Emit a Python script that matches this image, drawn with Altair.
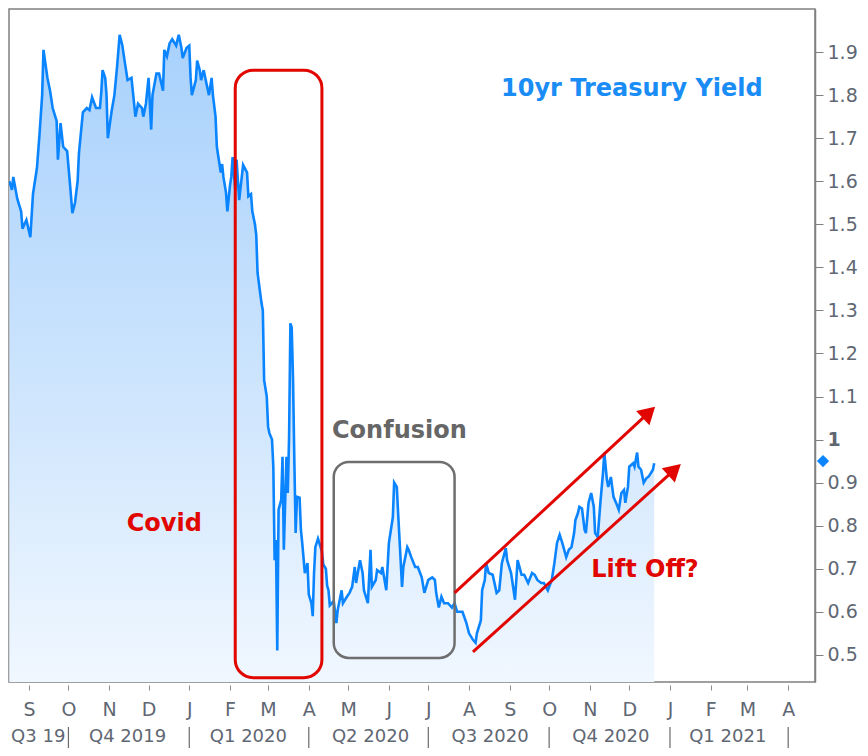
import altair as alt
import pandas as pd

# ---------------- data ----------------
dates = [
    "2019-08-17", "2019-08-19", "2019-08-20", "2019-08-23", "2019-08-24", "2019-08-26", "2019-08-27", "2019-08-30",
    "2019-09-02", "2019-09-04", "2019-09-07", "2019-09-09", "2019-09-11", "2019-09-12", "2019-09-15", "2019-09-17",
    "2019-09-19", "2019-09-22", "2019-09-23", "2019-09-25", "2019-09-27", "2019-09-30",
    "2019-10-02", "2019-10-04", "2019-10-06", "2019-10-08", "2019-10-09", "2019-10-12", "2019-10-15", "2019-10-17",
    "2019-10-19", "2019-10-22", "2019-10-25", "2019-10-26", "2019-10-27", "2019-10-29", "2019-10-30", "2019-10-31",
    "2019-11-03", "2019-11-05", "2019-11-07", "2019-11-09", "2019-11-11", "2019-11-13", "2019-11-15", "2019-11-18",
    "2019-11-19", "2019-11-21", "2019-11-23", "2019-11-26", "2019-11-27", "2019-11-29",
    "2019-12-01", "2019-12-03", "2019-12-04", "2019-12-07", "2019-12-09", "2019-12-12", "2019-12-13", "2019-12-15",
    "2019-12-17", "2019-12-19", "2019-12-22", "2019-12-24", "2019-12-26", "2019-12-27", "2019-12-30",
    "2020-01-01", "2020-01-02", "2020-01-03", "2020-01-06", "2020-01-07", "2020-01-09", "2020-01-10", "2020-01-12",
    "2020-01-14", "2020-01-16", "2020-01-18", "2020-01-19", "2020-01-21", "2020-01-22", "2020-01-25", "2020-01-26",
    "2020-01-27", "2020-01-29", "2020-01-30",
    "2020-02-01", "2020-02-02", "2020-02-03", "2020-02-05", "2020-02-06", "2020-02-08", "2020-02-11", "2020-02-14",
    "2020-02-15", "2020-02-17", "2020-02-18", "2020-02-20", "2020-02-21", "2020-02-22", "2020-02-24", "2020-02-25",
    "2020-02-26", "2020-02-27", "2020-02-29",
    "2020-03-01", "2020-03-02", "2020-03-04", "2020-03-05", "2020-03-06", "2020-03-07", "2020-03-08", "2020-03-09",
    "2020-03-11", "2020-03-12", "2020-03-13", "2020-03-15", "2020-03-16", "2020-03-17", "2020-03-18", "2020-03-19",
    "2020-03-20", "2020-03-21", "2020-03-22", "2020-03-23", "2020-03-25", "2020-03-26", "2020-03-27", "2020-03-29",
    "2020-03-30", "2020-03-31",
    "2020-04-01", "2020-04-03", "2020-04-04", "2020-04-05", "2020-04-06", "2020-04-08", "2020-04-09", "2020-04-11",
    "2020-04-12", "2020-04-14", "2020-04-15", "2020-04-16", "2020-04-17", "2020-04-20", "2020-04-22", "2020-04-23",
    "2020-04-26", "2020-04-27", "2020-04-30",
    "2020-05-02", "2020-05-04", "2020-05-06", "2020-05-07", "2020-05-10", "2020-05-12", "2020-05-13", "2020-05-16",
    "2020-05-18", "2020-05-19", "2020-05-22", "2020-05-23", "2020-05-26", "2020-05-27", "2020-05-30",
    "2020-06-01", "2020-06-04", "2020-06-05", "2020-06-07", "2020-06-08", "2020-06-11", "2020-06-12", "2020-06-15",
    "2020-06-16", "2020-06-18", "2020-06-21", "2020-06-23", "2020-06-26", "2020-06-28",
    "2020-07-01", "2020-07-04", "2020-07-06", "2020-07-07", "2020-07-09", "2020-07-11", "2020-07-13", "2020-07-16",
    "2020-07-19", "2020-07-21", "2020-07-23", "2020-07-27", "2020-07-30",
    "2020-08-01", "2020-08-04", "2020-08-06", "2020-08-07", "2020-08-10", "2020-08-11", "2020-08-13", "2020-08-14",
    "2020-08-16", "2020-08-19", "2020-08-22", "2020-08-24", "2020-08-26", "2020-08-29", "2020-08-30",
    "2020-09-02", "2020-09-05", "2020-09-07", "2020-09-10", "2020-09-12", "2020-09-15", "2020-09-18", "2020-09-20",
    "2020-09-22", "2020-09-25", "2020-09-27", "2020-09-30",
    "2020-10-03", "2020-10-05", "2020-10-07", "2020-10-09", "2020-10-11", "2020-10-14", "2020-10-16", "2020-10-18",
    "2020-10-20", "2020-10-21", "2020-10-23", "2020-10-24", "2020-10-26", "2020-10-28", "2020-10-29", "2020-10-31",
    "2020-11-02", "2020-11-04", "2020-11-05", "2020-11-07", "2020-11-09", "2020-11-11", "2020-11-12", "2020-11-14",
    "2020-11-15", "2020-11-17", "2020-11-19", "2020-11-21", "2020-11-23", "2020-11-25", "2020-11-27", "2020-11-28",
    "2020-11-30",
    "2020-12-01", "2020-12-04", "2020-12-05", "2020-12-07", "2020-12-08", "2020-12-10", "2020-12-12", "2020-12-14",
    "2020-12-16", "2020-12-19", "2020-12-20",
]
yields = [
    1.60, 1.58, 1.61, 1.56, 1.55, 1.53, 1.49, 1.51,
    1.47, 1.57, 1.63, 1.71, 1.80, 1.905, 1.84, 1.81,
    1.77, 1.74, 1.65, 1.735, 1.68, 1.67,
    1.60, 1.526, 1.55, 1.60, 1.665, 1.76, 1.77, 1.765,
    1.795, 1.77, 1.77, 1.807, 1.858, 1.84, 1.80, 1.70,
    1.765, 1.80, 1.865, 1.94, 1.916, 1.875, 1.835, 1.84,
    1.81, 1.75, 1.78, 1.77, 1.75, 1.78,
    1.84, 1.72, 1.80, 1.85, 1.85, 1.81, 1.905, 1.89,
    1.92, 1.93, 1.915, 1.94, 1.91, 1.886, 1.91,
    1.915, 1.84, 1.80, 1.835, 1.88, 1.858, 1.835, 1.858,
    1.828, 1.80, 1.84, 1.80, 1.75, 1.68, 1.62, 1.64,
    1.61, 1.573, 1.53,
    1.59, 1.61, 1.656, 1.58, 1.65, 1.556, 1.638, 1.62,
    1.565, 1.57, 1.53, 1.50, 1.475, 1.387, 1.34, 1.317,
    1.30, 1.138, 1.10,
    1.03, 1.015, 1.00, 0.937, 0.72, 0.767, 0.51, 0.837,
    0.86, 0.96, 0.744, 0.96, 0.876, 1.006, 1.27, 1.26,
    1.14, 0.95, 0.783, 0.867, 0.865, 0.79, 0.76, 0.69,
    0.70, 0.713,
    0.64, 0.62, 0.59, 0.69, 0.75, 0.77, 0.76, 0.74,
    0.71, 0.70, 0.66, 0.65, 0.615, 0.625, 0.574, 0.604,
    0.65, 0.62, 0.635,
    0.644, 0.658, 0.704, 0.667, 0.72, 0.69, 0.65, 0.62,
    0.744, 0.658, 0.674, 0.697, 0.69, 0.704, 0.65,
    0.76, 0.82, 0.90, 0.89, 0.83, 0.658, 0.704, 0.75,
    0.744, 0.727, 0.704, 0.704, 0.68, 0.644,
    0.674, 0.68, 0.674, 0.644, 0.61, 0.635, 0.62, 0.62,
    0.61, 0.62, 0.60, 0.60, 0.574,
    0.55, 0.535, 0.528, 0.55, 0.58, 0.65, 0.674, 0.713,
    0.69, 0.686, 0.644, 0.65, 0.713, 0.748, 0.72,
    0.69, 0.628, 0.72, 0.686, 0.686, 0.667, 0.69, 0.686,
    0.674, 0.667, 0.667, 0.65,
    0.674, 0.713, 0.76, 0.779, 0.76, 0.727, 0.744, 0.75,
    0.783, 0.813, 0.83, 0.844, 0.84, 0.79, 0.783, 0.853,
    0.876, 0.844, 0.783, 0.774, 0.853, 0.922, 0.97, 0.906,
    0.89, 0.913, 0.867, 0.853, 0.837, 0.876, 0.883, 0.853,
    0.89,
    0.937, 0.945, 0.937, 0.97, 0.937, 0.93, 0.90, 0.91,
    0.915, 0.93, 0.945,
]
current_value = [0.95]

y_ticks = [0.5, 0.6, 0.7, 0.8, 0.9, 1.0, 1.1, 1.2, 1.3, 1.4, 1.5, 1.6, 1.7, 1.8, 1.9]

quarter_labels = ["Q3 19", "Q4 2019", "Q1 2020", "Q2 2020", "Q3 2020", "Q4 2020", "Q1 2021"]
quarter_mids = ["2019-09-08", "2019-11-15", "2020-02-15", "2020-05-18", "2020-08-17", "2020-11-17", "2021-02-14"]
quarter_starts = ["2019-10-01", "2020-01-01", "2020-04-01", "2020-07-01", "2020-10-01", "2021-01-01", "2021-04-01"]

# annotation boxes (date range, yield range)
box_x = ["2020-02-05", "2020-04-20"]
box_x2 = ["2020-04-11", "2020-07-21"]
box_y = [1.858, 0.948]
box_y2 = [0.447, 0.493]

# arrows (start date/yield -> head date/yield)
arrow_x = ["2020-07-21T00:00", "2020-08-04T00:00"]
arrow_y = [0.644, 0.507]
arrow_x2 = ["2020-12-16T00:00", "2021-01-04T12:00"]
arrow_y2 = [1.063, 0.930]

# text labels
label_text = ["10yr Treasury Yield", "Covid", "Confusion", "Lift Off?"]
label_x = ["2020-12-03", "2019-12-13", "2020-06-09", "2020-12-13"]
label_y = [1.814, 0.804, 1.020, 0.697]

# ---------------- chart ----------------
W, H = 806, 673
BLUE = "#0a84ff"
RED = "#e10600"
GRAY_TXT = "#5f6773"
FONT = "DejaVu Sans"

df = pd.DataFrame({"date": pd.to_datetime(dates), "yield": yields})

x_domain = [alt.DateTime(year=2019, month=8, date=16, hours=18),
            alt.DateTime(year=2021, month=4, date=21, hours=10)]
month_ticks = []
for yr, m in [(2019, mm) for mm in range(9, 13)] + [(2020, mm) for mm in range(1, 13)] + [(2021, mm) for mm in range(1, 5)]:
    month_ticks.append(alt.DateTime(year=yr, month=m, date=1))

x_scale = alt.Scale(domain=x_domain)
y_scale = alt.Scale(domain=[0.437, 2.0], zero=False, nice=False)

x_axis = alt.Axis(values=month_ticks, labelExpr="substring(timeFormat(datum.value, '%b'), 0, 1)",
                  title=None, grid=False, domain=False, offset=3, tickSize=5, tickColor="#8a8a8a",
                  labelFont=FONT, labelFontSize=19, labelColor=GRAY_TXT, labelPadding=10,
                  labelAlign="center", labelFlush=False, labelOverlap=False)
y_axis = alt.Axis(orient="right", values=y_ticks, format=".1~f", title=None, grid=False,
                  domainColor="#808080", domainWidth=1.5, tickColor="#808080", tickSize=8,
                  labelFont=FONT, labelFontSize=19, labelColor=GRAY_TXT, labelPadding=4,
                  labelFlush=False, labelOverlap=False,
                  labelFontWeight=alt.condition("datum.value == 1", alt.value("bold"), alt.value("normal")))


def X(field):
    return alt.X(field, scale=x_scale, axis=x_axis)


def Y(field):
    return alt.Y(field, scale=y_scale, axis=y_axis)


gradient = alt.Gradient(
    gradient="linear",
    stops=[alt.GradientStop(color="#a8d1fc", offset=0),
           alt.GradientStop(color="#d0e6fd", offset=0.45),
           alt.GradientStop(color="#eef6ff", offset=0.75),
           alt.GradientStop(color="#ffffff", offset=1)],
    x1=1, x2=1, y1=0, y2=1,
)

area = alt.Chart(df).mark_area(color=gradient, clip=True).encode(
    x=X("date:T"), y=Y("yield:Q"), y2=alt.value(H),
)
line = alt.Chart(df).mark_line(color=BLUE, strokeWidth=2.6, clip=True).encode(
    x=X("date:T"), y=Y("yield:Q"),
)

boxes = pd.DataFrame({"x": pd.to_datetime(box_x), "x2": pd.to_datetime(box_x2), "y": box_y, "y2": box_y2})
covid_box = alt.Chart(boxes.iloc[[0]]).mark_rect(fill="transparent", stroke=RED, strokeWidth=3, cornerRadius=18).encode(
    x=X("x:T"), x2="x2:T", y=Y("y:Q"), y2="y2:Q")
conf_box = alt.Chart(boxes.iloc[[1]]).mark_rect(fill="transparent", stroke="#6e6e6e", strokeWidth=2.5, cornerRadius=15).encode(
    x=X("x:T"), x2="x2:T", y=Y("y:Q"), y2="y2:Q")

arrows = pd.DataFrame({"x": pd.to_datetime(arrow_x, format="ISO8601"), "x2": pd.to_datetime(arrow_x2, format="ISO8601"),
                       "y": arrow_y, "y2": arrow_y2})
arrow_lines = alt.Chart(arrows).mark_rule(color=RED, strokeWidth=3).encode(
    x=X("x:T"), x2="x2:T", y=Y("y:Q"), y2="y2:Q")
head1 = alt.Chart(arrows.iloc[[0]]).mark_point(shape="triangle-up", filled=True, color=RED, opacity=1, size=380, angle=47).encode(
    x=X("x2:T"), y=Y("y2:Q"))
head2 = alt.Chart(arrows.iloc[[1]]).mark_point(shape="triangle-up", filled=True, color=RED, opacity=1, size=380, angle=48).encode(
    x=X("x2:T"), y=Y("y2:Q"))

labels = pd.DataFrame({"x": pd.to_datetime(label_x), "y": label_y, "text": label_text})
label_colors = ["#1a8cf5", RED, "#666666", RED]
text_layers = []
for i in range(len(label_text)):
    text_layers.append(
        alt.Chart(labels.iloc[[i]]).mark_text(font=FONT, fontSize=24, fontWeight="bold", color=label_colors[i],
                                              align="center", baseline="middle").encode(
            x=X("x:T"), y=Y("y:Q"), text="text:N")
    )

diamond = alt.Chart(pd.DataFrame({"v": current_value})).mark_point(
    shape="diamond", filled=True, color=BLUE, opacity=1, size=150).encode(
    x=alt.value(W + 8), y=Y("v:Q"))

qdf = pd.DataFrame({"x": pd.to_datetime(quarter_mids), "label": quarter_labels})
quarter_text = alt.Chart(qdf).mark_text(font=FONT, fontSize=18, color=GRAY_TXT, align="center", baseline="middle").encode(
    x=X("x:T"), y=alt.value(H + 55), text="label:N")
sdf = pd.DataFrame({"x": pd.to_datetime(quarter_starts)})
quarter_sep = alt.Chart(sdf).mark_rule(color="#6a6a6a", strokeWidth=1.2).encode(
    x=X("x:T"), y=alt.value(H + 45), y2=alt.value(H + 80))

chart = alt.layer(
    area, line, conf_box, covid_box, arrow_lines, head1, head2, *text_layers, diamond, quarter_text, quarter_sep
).properties(
    width=W, height=H,
    autosize=alt.AutoSizeParams(type="none"),
    padding={"left": 1, "top": 1, "right": 45, "bottom": 66},
    background="white",
).configure_view(stroke="#808080", strokeWidth=1.5)

chart.save("out.html", embed_options={"renderer": "svg", "actions": False})
